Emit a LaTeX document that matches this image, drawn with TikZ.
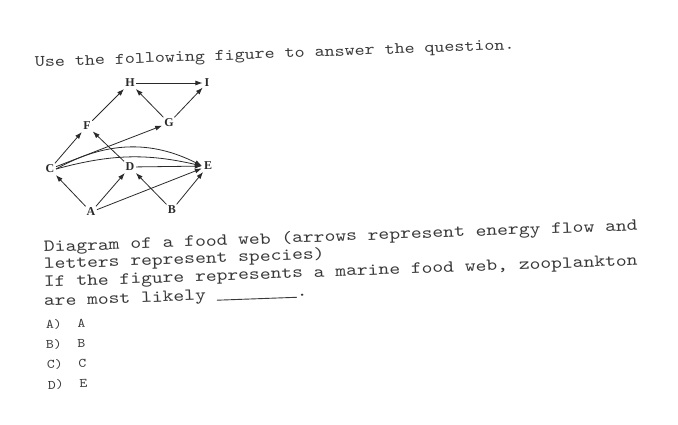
\documentclass[tikz,border=0pt]{standalone}
\usepackage{fontspec}
\setmainfont{Liberation Serif}
\newfontfamily\courq[FakeStretch=1.21]{lmmono10-regular.otf}
\newfontfamily\court[FakeStretch=1.19]{lmmono10-regular.otf}
\newfontfamily\coura[FakeStretch=1.15]{lmmono10-regular.otf}
\usetikzlibrary{arrows.meta}
\definecolor{ink}{HTML}{2A2A2A}
\definecolor{txt}{HTML}{383838}
\begin{document}
\begin{tikzpicture}[x=1pt,y=-1pt,
  sp/.style={font=\bfseries\fontsize{12}{12}\selectfont, text=ink, inner sep=1.5pt},
  flow/.style={-{Latex[length=7pt,width=5pt]}, draw=ink, line width=0.8pt, shorten >=0.5pt},
  qline/.style={anchor=base west, inner sep=0pt, rotate=2.1, text=txt, font=\courq\fontsize{17}{17}\selectfont},
  ans/.style={anchor=base west, inner sep=0pt, rotate=2.1, text=txt, font=\coura\fontsize{13}{13}\selectfont}]
\useasboundingbox (0,0) rectangle (678,424);
\fill[white] (0,0) rectangle (678,424);

\node[anchor=base west, inner sep=0pt, rotate=2.1, text=txt, font=\court\fontsize{16}{16}\selectfont] (title) at (35,67) {Use the following figure to answer the question.};

% species
\node[sp] (H) at (130,83) {H};
\node[sp] (I) at (207,83) {I};
\node[sp] (F) at (87,126) {F};
\node[sp] (G) at (169,123) {G};
\node[sp] (C) at (50,169) {C};
\node[sp] (D) at (130,167) {D};
\node[sp] (E) at (208,166) {E};
\node[sp] (A) at (91,212) {A};
\node[sp] (B) at (172,210) {B};

\draw[flow] (H) -- (I);
\draw[flow] (F) -- (H);
\draw[flow] (G) -- (H);
\draw[flow] (G) -- (I);
\draw[flow] (C) -- (F);
\draw[flow] (D) -- (F);
\draw[flow] (C) -- (G);
\draw[flow] (C.east) to[bend left=28] (E.west);
\draw[flow] (C.east) to[bend left=14] (E.west);
\draw[flow] (D) -- (E);
\draw[flow] (A) -- (C);
\draw[flow] (A) -- (D);
\draw[flow] (A) -- (E);
\draw[flow] (B) -- (D);
\draw[flow] (B) -- (E);

% question
\node[qline] (q1) at (44,252) {Diagram of a food web (arrows represent energy flow and};
\node[qline] (q2) at (44,269) {letters represent species)};
\node[qline] (q3) at (44,287) {If the figure represents a marine food web, zooplankton};
\node[qline] (q4) at (44,306) {are most likely \rule[-1pt]{80pt}{0.9pt}.};

\node[ans] (a1) at (46,329) {A)\ \ A};
\node[ans] (a2) at (46,349) {B)\ \ B};
\node[ans] (a3) at (47,369) {C)\ \ C};
\node[ans] (a4) at (48,389) {D)\ \ E};
\end{tikzpicture}
\end{document}
